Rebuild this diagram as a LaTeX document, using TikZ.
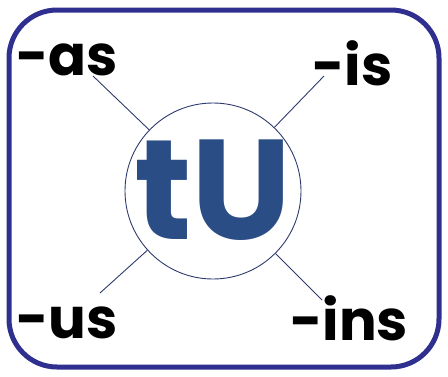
\documentclass[tikz,border=0pt]{standalone}
\usepackage{fontspec}
\setmainfont{Poppins}
\usetikzlibrary{calc}
\definecolor{frame}{HTML}{2E2F8E}
\definecolor{tublue}{HTML}{2B4D86}
\definecolor{ringc}{HTML}{2E3A6E}
\tikzset{
  lbl/.style={font=\fontsize{56}{56}\selectfont\bfseries, inner sep=0pt, anchor=base west, text=black},
  spoke/.style={draw=ringc, line width=0.9pt},
}
\begin{document}
\begin{tikzpicture}[x=1pt,y=-1pt]
\useasboundingbox (0,0) rectangle (448,376);
\draw[frame, line width=5pt, rounded corners=48pt] (9,10) rectangle (439,367);
\node[circle, draw=ringc, line width=0.9pt, minimum size=176pt, inner sep=0pt] (c) at (213,191) {};
\node[text=tublue, font=\fontsize{142}{142}\selectfont\bfseries, inner sep=0pt] (tu) at (213,190) {tU};
\node[lbl] (as) at (16,75) {-as};
\node[lbl] (is) at (312,85) {-is};
\node[lbl] (us) at (16,338) {-us};
\node[lbl] (ins) at (290,340) {-ins};
\coordinate (pas) at (93,76);
\coordinate (pis) at (324,76);
\coordinate (pus) at (100,293);
\coordinate (pins) at (322,300);
\draw[spoke] (pas) -- (c);
\draw[spoke] (pis) -- (c);
\draw[spoke] (pus) -- (c);
\draw[spoke] (pins) -- (c);
\end{tikzpicture}
\end{document}
